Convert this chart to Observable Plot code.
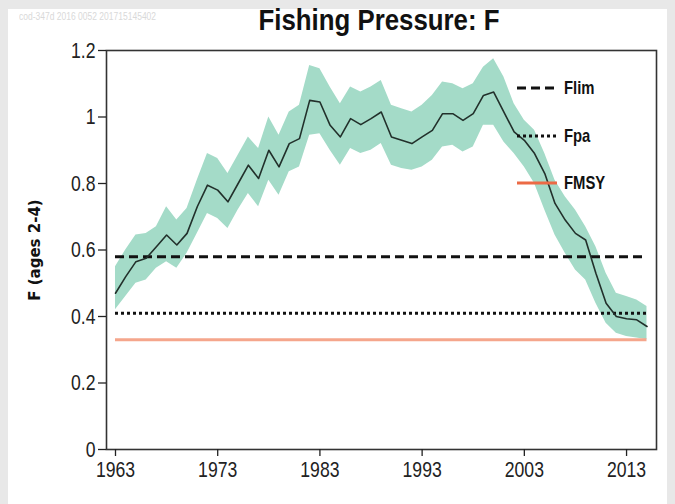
<!DOCTYPE html>
<html>
<head>
<meta charset="utf-8">
<script src="https://cdn.jsdelivr.net/npm/d3@7"></script>
<script src="https://cdn.jsdelivr.net/npm/@observablehq/plot@0.6"></script>
<style>
  html, body { margin: 0; padding: 0; background: #e8e8e8; }
  #wrap { position: relative; width: 675px; height: 504px; overflow: hidden; }
  #panel { position: absolute; left: 8px; top: 9px; width: 659px; height: 495px; background: #fff; }
  #chart { position: absolute; left: 0; top: 0; }
  #title { position: absolute; left: 0; width: 758px; top: 3px; text-align: center;
           font-family: "Liberation Sans", Arial, sans-serif; font-weight: bold;
           font-size: 30px; color: #111; transform: scaleX(0.86); transform-origin: 379px 0; }
  #wm { position: absolute; left: 19px; top: 11px; font-family: "Liberation Sans", sans-serif;
        font-size: 10px; color: #d9d9d9; transform: scaleX(0.85); transform-origin: 0 0; }
  #ylab { position: absolute; left: 35px; top: 250px; transform: translate(-50%, -50%) rotate(-90deg);
          font-family: "DejaVu Sans", sans-serif; font-weight: bold; font-size: 15px; color: #111; white-space: nowrap; }
  .leg { position: absolute; left: 517px; height: 20px; display: flex; align-items: center;
         font-family: "Liberation Sans", Arial, sans-serif; font-weight: bold; font-size: 19px; color: #111; }
  .leg svg { margin-right: 7px; }
  .leg span { display: inline-block; transform: scaleX(0.78); transform-origin: 0 50%; }
</style>
</head>
<body>
<div id="wrap">
  <div id="panel"></div>
  <div id="wm">cod-347d 2016 0052 201715145402</div>
  <div id="title">Fishing Pressure: F</div>
  <div id="chart"></div>
  <div id="ylab">F (ages 2-4)</div>
  <div id="legend"></div>
</div>
<script>
// ---- data ----
const years = d3.range(1963, 2016);
const fValues = [0.47, 0.52, 0.565, 0.575, 0.61, 0.645, 0.615, 0.65, 0.73, 0.795,
  0.78, 0.745, 0.80, 0.855, 0.815, 0.90, 0.85, 0.92, 0.935, 1.05,
  1.045, 0.975, 0.94, 0.995, 0.977, 0.995, 1.015, 0.94, 0.93, 0.92,
  0.94, 0.96, 1.01, 1.01, 0.99, 1.01, 1.065, 1.075, 1.015, 0.955,
  0.93, 0.89, 0.83, 0.74, 0.69, 0.65, 0.63, 0.53, 0.44, 0.40,
  0.393, 0.39, 0.37];
const fUpper = [0.55, 0.60, 0.645, 0.65, 0.67, 0.73, 0.69, 0.725, 0.81, 0.89,
  0.875, 0.83, 0.885, 0.94, 0.905, 1.00, 0.945, 1.015, 1.035, 1.155,
  1.145, 1.09, 1.04, 1.09, 1.075, 1.09, 1.11, 1.035, 1.025, 1.015,
  1.035, 1.065, 1.105, 1.10, 1.085, 1.10, 1.15, 1.175, 1.12, 1.04,
  0.99, 0.96, 0.89, 0.81, 0.76, 0.72, 0.67, 0.61, 0.53, 0.47,
  0.46, 0.45, 0.43];
const fLower = [0.42, 0.46, 0.50, 0.51, 0.545, 0.565, 0.545, 0.59, 0.65, 0.71,
  0.695, 0.665, 0.72, 0.77, 0.73, 0.81, 0.765, 0.835, 0.85, 0.945,
  0.95, 0.90, 0.855, 0.905, 0.89, 0.90, 0.92, 0.855, 0.845, 0.84,
  0.85, 0.87, 0.91, 0.915, 0.895, 0.91, 0.975, 0.975, 0.925, 0.89,
  0.85, 0.80, 0.72, 0.645, 0.59, 0.54, 0.51, 0.44, 0.38, 0.35,
  0.34, 0.335, 0.33];
const refNames = ["Flim", "Fpa", "FMSY"];
const refValues = [0.58, 0.41, 0.33];
const xTicks = [1963, 1973, 1983, 1993, 2003, 2013];
const yTicks = [0, 0.2, 0.4, 0.6, 0.8, 1, 1.2];
const yTickLabels = ["0", "0.2", "0.4", "0.6", "0.8", "1", "1.2"];

// ---- styles (not data) ----
const refStyles = {
  Flim: {stroke: "#111", dash: "9,5", width: 3, legStroke: "#111"},
  Fpa: {stroke: "#111", dash: "3,3", width: 3, legStroke: "#111"},
  FMSY: {stroke: "#f5a68c", dash: null, width: 3, legStroke: "#ec6a45"}
};

const series = years.map((y, i) => ({year: y, f: fValues[i], lo: fLower[i], hi: fUpper[i]}));
const refs = refNames.map((n, i) => ({name: n, value: refValues[i]}));
const x1 = years[0], x2 = years[years.length - 1];

const font = '"Liberation Sans", Arial, sans-serif';

const chart = Plot.plot({
  width: 675,
  height: 504,
  marginLeft: 106,
  marginRight: 19,
  marginTop: 50,
  marginBottom: 55,
  style: {background: "transparent", fontFamily: font, fontSize: "22px", color: "#222"},
  x: {domain: [1962.12, 2015.93]},
  y: {domain: [0, 1.2]},
  marks: [
    Plot.areaY(series, {x: "year", y1: "lo", y2: "hi", fill: "#a4dbc8", curve: "linear"}),
    ...refs.map(r => Plot.ruleY([r.value], {
      x1: x1, x2: x2,
      stroke: refStyles[r.name].stroke,
      strokeWidth: refStyles[r.name].width,
      strokeDasharray: refStyles[r.name].dash
    })),
    Plot.lineY(series, {x: "year", y: "f", stroke: "#22302b", strokeWidth: 1.6}),
    Plot.frame({stroke: "#333", strokeWidth: 1.6}),
    Plot.axisY({ticks: yTicks, tickFormat: d => yTickLabels[yTicks.indexOf(d)], tickSize: 8, tickPadding: 3,
                label: null, fontSize: 22, stroke: "#222", strokeWidth: 1.3}),
    Plot.axisX({ticks: xTicks, tickFormat: d => String(d), tickSize: 7, tickPadding: 5,
                label: null, fontSize: 22, stroke: "#222", strokeWidth: 1.3})
  ]
});
document.getElementById("chart").appendChild(chart);

// condense axis labels (narrow look)
chart.querySelectorAll("text").forEach(t => {
  const len = t.getComputedTextLength();
  if (len > 0) {
    t.setAttribute("textLength", (len * 0.8).toFixed(1));
    t.setAttribute("lengthAdjust", "spacingAndGlyphs");
  }
});

// ---- legend ----
const legTops = {Flim: 78, Fpa: 126, FMSY: 173};
const leg = document.getElementById("legend");
refs.forEach(r => {
  const s = refStyles[r.name];
  const d = document.createElement("div");
  d.className = "leg";
  d.style.top = legTops[r.name] + "px";
  d.innerHTML = `<svg width="40" height="8"><line x1="0" x2="40" y1="4" y2="4" stroke="${s.legStroke}" stroke-width="3" ${s.dash ? `stroke-dasharray="${s.dash}"` : ""}/></svg><span>${r.name}</span>`;
  leg.appendChild(d);
});
</script>
</body>
</html>
